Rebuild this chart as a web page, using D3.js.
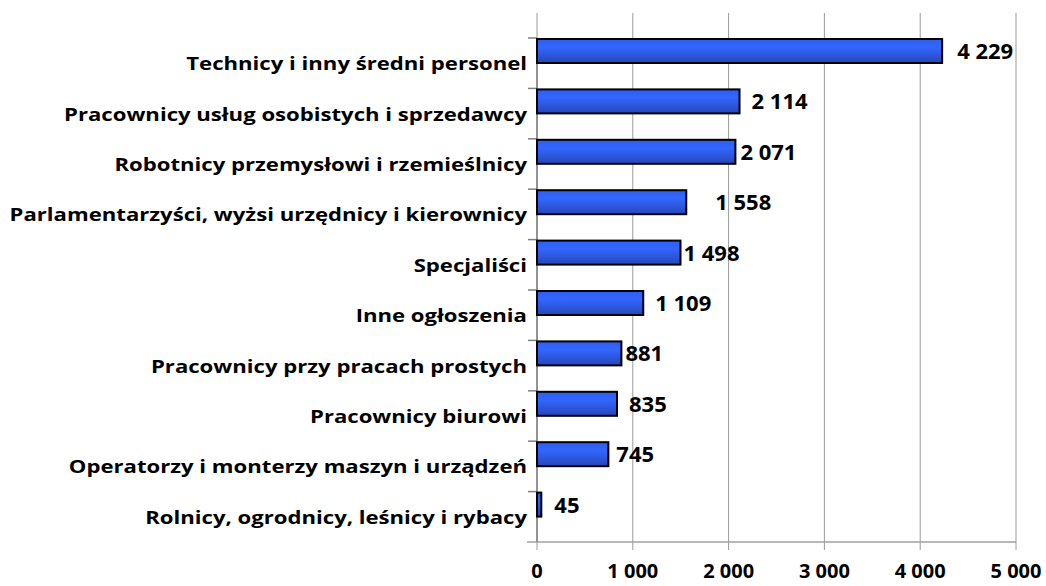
<!DOCTYPE html>
<html><head><meta charset="utf-8">
<script src="https://cdn.jsdelivr.net/npm/d3@7"></script>
<style>body{margin:0;background:#fff}text{font-family:"Open Sans",sans-serif;font-weight:bold;fill:#000}</style>
</head><body>
<svg id="c" width="1046" height="586"></svg>
<script>
const categories = [
  "Technicy i inny średni personel",
  "Pracownicy usług osobistych i sprzedawcy",
  "Robotnicy przemysłowi i rzemieślnicy",
  "Parlamentarzyści, wyżsi urzędnicy i kierownicy",
  "Specjaliści",
  "Inne ogłoszenia",
  "Pracownicy przy pracach prostych",
  "Pracownicy biurowi",
  "Operatorzy i monterzy maszyn i urządzeń",
  "Rolnicy, ogrodnicy, leśnicy i rybacy"
];
const values = [4229, 2114, 2071, 1558, 1498, 1109, 881, 835, 745, 45];
const valueLabels = ["4 229","2 114","2 071","1 558","1 498","1 109","881","835","745","45"];
const xTicks = [0, 1000, 2000, 3000, 4000, 5000];
const xTickLabels = ["0","1 000","2 000","3 000","4 000","5 000"];
// label offsets (styling, as placed in the original)
const labelDx = [15, 12, 5, 29, 3, 12, 4, 12, 8, 13];

const svg = d3.select("#c");
const x = d3.scaleLinear().domain([0, 5000]).range([537, 1016]);
const y = d3.scaleBand().domain(categories).range([38, 542]).paddingInner(0).paddingOuter(0);
const gridTop = 13, axisY = 542;

const defs = svg.append("defs");
const grad = defs.append("linearGradient").attr("id","g").attr("x1",0).attr("x2",0).attr("y1",0).attr("y2",1);
grad.append("stop").attr("offset","0%").attr("stop-color","#2f5ff0");
grad.append("stop").attr("offset","35%").attr("stop-color","#3366ff");
grad.append("stop").attr("offset","100%").attr("stop-color","#2546b8");

// gridlines
svg.append("g").selectAll("line").data(xTicks).join("line")
  .attr("x1", d=>x(d)).attr("x2", d=>x(d))
  .attr("y1", gridTop).attr("y2", axisY + 8)
  .attr("stroke", "#9a9a9a").attr("stroke-width", 1);

// x axis line
svg.append("line").attr("x1", x(0)-10).attr("x2", x(5000)).attr("y1", axisY).attr("y2", axisY)
  .attr("stroke", "#a0a0a0").attr("stroke-width", 1.5);
// y axis line
svg.append("line").attr("x1", x(0)).attr("x2", x(0)).attr("y1", y.range()[0]).attr("y2", axisY)
  .attr("stroke", "#808080").attr("stroke-width", 1.5);
// y ticks
svg.append("g").selectAll("line").data(categories).join("line")
  .attr("x1", x(0)-9).attr("x2", x(0)).attr("y1", d=>y(d)).attr("y2", d=>y(d))
  .attr("stroke", "#808080").attr("stroke-width", 1.5);

// x tick labels
svg.append("g").selectAll("text").data(xTicks).join("text")
  .attr("x", d=>x(d)).attr("y", 578).attr("text-anchor","middle")
  .style("font-size","20px").text((d,i)=>xTickLabels[i]);

// bars
const barH = 24;
svg.append("g").selectAll("rect").data(values).join("rect")
  .attr("x", x(0)).attr("y", (d,i)=>y(categories[i])+1)
  .attr("width", d=>x(d)-x(0)).attr("height", barH)
  .attr("fill","url(#g)").attr("stroke","#000").attr("stroke-width",2);

// value labels
svg.append("g").selectAll("text").data(values).join("text")
  .attr("x", (d,i)=>x(d)+labelDx[i]).attr("y", (d,i)=>y(categories[i])+1+barH/2+8)
  .style("font-size","22px").text((d,i)=>valueLabels[i]);

// category labels
const catG = svg.append("g");
const cats = catG.selectAll("text").data(categories).join("text")
  .attr("text-anchor","end").style("font-size","18px")
  .text(d=>d);
const longest = d3.max(cats.nodes(), n=>n.getComputedTextLength());
const sx = 518 / longest;
cats.attr("transform", d=>`translate(527,${y(d)+y.bandwidth()/2+7}) scale(${sx},1)`);
</script>
</body></html>
